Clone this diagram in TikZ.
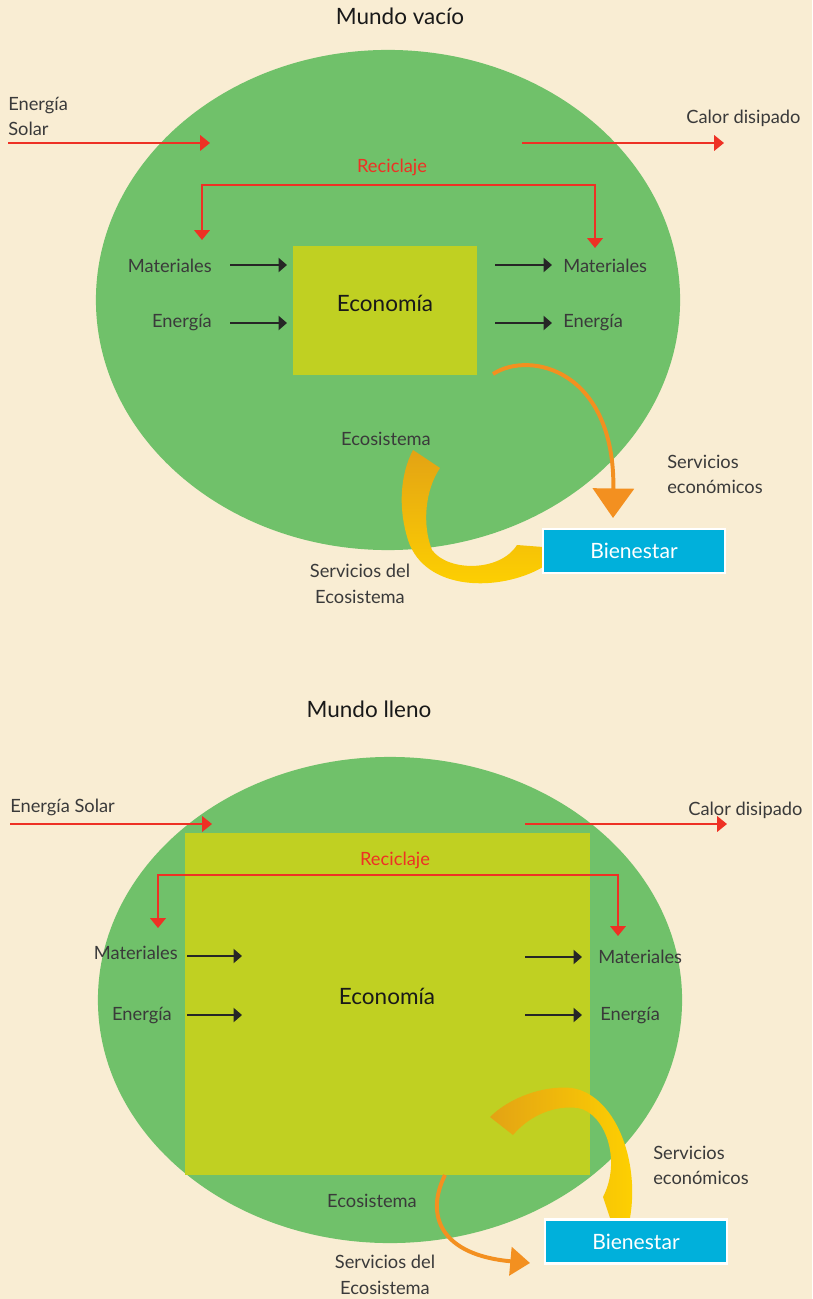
\documentclass[tikz,border=0pt]{standalone}
\usepackage{fontspec}
\setmainfont{Lato}
\usetikzlibrary{arrows.meta,shapes.geometric}
\definecolor{fondo}{HTML}{F9EDD3}
\definecolor{verde}{HTML}{70C16A}
\definecolor{lima}{HTML}{C0D022}
\definecolor{rojo}{HTML}{EE3124}
\definecolor{azul}{HTML}{00B0DB}
\definecolor{naranja}{HTML}{F39020}
\definecolor{oro}{HTML}{E3A314}
\definecolor{amarillo}{HTML}{FFD200}
\definecolor{texto}{HTML}{3A3A3A}
\tikzset{
  etiqueta/.style={text=texto,inner sep=0pt,font=\fontsize{13}{18}\selectfont},
  titulo/.style={text=black!90,inner sep=0pt,font=\fontsize{16}{18}\selectfont},
  mundo/.style={ellipse,fill=verde,inner sep=0pt},
  caja/.style={rectangle,fill=lima,inner sep=0pt},
  bien/.style={rectangle,fill=azul,draw=white,line width=1.5pt,text=white,
    minimum width=4.55cm,minimum height=1.1cm,font=\fontsize{15}{18}\selectfont},
  flechaRoja/.style={draw=rojo,line width=1.4pt,-{Triangle[length=7pt,width=11pt]}},
  reciclo/.style={draw=rojo,line width=1.4pt,
    {Triangle[length=7pt,width=11pt]}-{Triangle[length=7pt,width=11pt]}},
  flechaNegra/.style={draw=black!85,line width=1.4pt,-{Triangle[length=6pt,width=10pt]}},
  flechaNaranja/.style={draw=naranja,line width=2.8pt}
}
\begin{document}
\begin{tikzpicture}[x=0.025cm,y=-0.025cm]
\useasboundingbox (0,0) rectangle (812,1299);
\fill[fondo] (0,0) rectangle (812,1299);

% Mundo vacio
\node[titulo,anchor=base] (t1) at (400,25) {Mundo vacío};
\node[mundo,minimum width=14.6cm,minimum height=12.5cm] (m1) at (388,300) {};
\node[caja,minimum width=4.6cm,minimum height=3.225cm] (e1) at (385,310.5) {};
\node[titulo,anchor=base] (et1) at (385,312) {Economía};

\node[etiqueta,anchor=north west,align=left] (sol1) at (8,97) {Energía\\Solar};
\coordinate (solA1) at (8,143);
\coordinate (solB1) at (210,143);
\draw[flechaRoja] (solA1) -- (solB1);
\node[etiqueta,anchor=base west] (cal1) at (686,124) {Calor disipado};
\coordinate (calA1) at (522,143);
\coordinate (calB1) at (724,143);
\draw[flechaRoja] (calA1) -- (calB1);

\node[etiqueta,text=rojo,anchor=base] (rec1) at (392,173) {Reciclaje};
\coordinate (rA1) at (202,240);
\coordinate (rB1) at (595,248);
\coordinate (rC1) at (400,185);
\draw[reciclo] (rA1) |- (rC1) -| (rB1);

\node[etiqueta,anchor=base east] (mi1) at (212,273) {Materiales};
\node[etiqueta,anchor=base east] (ei1) at (212,328) {Energía};
\node[etiqueta,anchor=base west] (mo1) at (563,273) {Materiales};
\node[etiqueta,anchor=base west] (eo1) at (563,328) {Energía};
\coordinate (miA1) at (230,265);
\coordinate (miB1) at (287,265);
\coordinate (eiA1) at (230,323);
\coordinate (eiB1) at (287,323);
\coordinate (moA1) at (495,265);
\coordinate (moB1) at (552,265);
\coordinate (eoA1) at (495,323);
\coordinate (eoB1) at (552,323);
\draw[flechaNegra] (miA1) -- (miB1);
\draw[flechaNegra] (eiA1) -- (eiB1);
\draw[flechaNegra] (moA1) -- (moB1);
\draw[flechaNegra] (eoA1) -- (eoB1);

\node[etiqueta,anchor=base] (ec1) at (386,445) {Ecosistema};
\node[etiqueta,anchor=north west,align=left] (se1) at (667,455) {Servicios\\económicos};
\node[etiqueta,anchor=north,align=center] (sv1) at (360,564) {Servicios del\\Ecosistema};

\coordinate (oA1) at (493,374);
\coordinate (oB1) at (613,518);
\draw[flechaNaranja,-{Triangle[length=21pt,width=29pt]}] (oA1) .. controls (530,350) and (615,370) .. (oB1);

\shade[top color=oro,bottom color=amarillo] (543,567) .. controls (500,592) and (425,592) .. (408,540)
  .. controls (398,508) and (400,475) .. (413,450) -- (440,468)
  .. controls (425,490) and (422,525) .. (432,550)
  .. controls (448,572) and (500,572) .. (517,545) -- (543,547) -- cycle;
\node[bien] (b1) at (634,551) {Bienestar};

% Mundo lleno
\node[titulo,anchor=base] (t2) at (369,717) {Mundo lleno};
\node[mundo,minimum width=14.6cm,minimum height=12.15cm] (m2) at (390,1000) {};
\node[caja,minimum width=10.125cm,minimum height=8.55cm] (e2) at (387.5,1004) {};
\node[titulo,anchor=base] (et2) at (387,1004) {Economía};

\node[etiqueta,anchor=base west] (sol2) at (10,812) {Energía Solar};
\coordinate (solA2) at (10,824);
\coordinate (solB2) at (212,824);
\draw[flechaRoja] (solA2) -- (solB2);
\node[etiqueta,anchor=base west] (cal2) at (688,815) {Calor disipado};
\coordinate (calA2) at (525,824);
\coordinate (calB2) at (727,824);
\draw[flechaRoja] (calA2) -- (calB2);

\node[etiqueta,text=rojo,anchor=base] (rec2) at (395,865) {Reciclaje};
\coordinate (rA2) at (158,928);
\coordinate (rB2) at (618,936);
\coordinate (rC2) at (400,875);
\draw[reciclo] (rA2) |- (rC2) -| (rB2);

\node[etiqueta,anchor=base east] (mi2) at (178,959) {Materiales};
\node[etiqueta,anchor=base east] (ei2) at (172,1020) {Energía};
\node[etiqueta,anchor=base west] (mo2) at (598,963) {Materiales};
\node[etiqueta,anchor=base west] (eo2) at (600,1020) {Energía};
\coordinate (miA2) at (187,956);
\coordinate (miB2) at (242,956);
\coordinate (eiA2) at (187,1015);
\coordinate (eiB2) at (242,1015);
\coordinate (moA2) at (525,957);
\coordinate (moB2) at (582,957);
\coordinate (eoA2) at (525,1015);
\coordinate (eoB2) at (582,1015);
\draw[flechaNegra] (miA2) -- (miB2);
\draw[flechaNegra] (eiA2) -- (eiB2);
\draw[flechaNegra] (moA2) -- (moB2);
\draw[flechaNegra] (eoA2) -- (eoB2);

\node[etiqueta,anchor=base] (ec2) at (372,1207) {Ecosistema};
\node[etiqueta,anchor=north west,align=left] (se2) at (653,1146) {Servicios\\económicos};
\node[etiqueta,anchor=north,align=center] (sv2) at (385,1255) {Servicios del\\Ecosistema};

\coordinate (oA2) at (445,1175);
\coordinate (oB2) at (530,1263);
\draw[flechaNaranja,-{Triangle[length=14pt,width=20pt]}] (oA2) .. controls (425,1215) and (440,1255) .. (oB2);

\shade[left color=oro,right color=amarillo] (630,1218) .. controls (640,1160) and (615,1095) .. (572,1088)
  .. controls (545,1085) and (510,1097) .. (490,1117) -- (513,1135)
  .. controls (530,1115) and (555,1105) .. (578,1108)
  .. controls (605,1113) and (622,1160) .. (603,1197) -- (610,1218) -- cycle;
\node[bien] (b2) at (636,1241.5) {Bienestar};
\end{tikzpicture}
\end{document}
